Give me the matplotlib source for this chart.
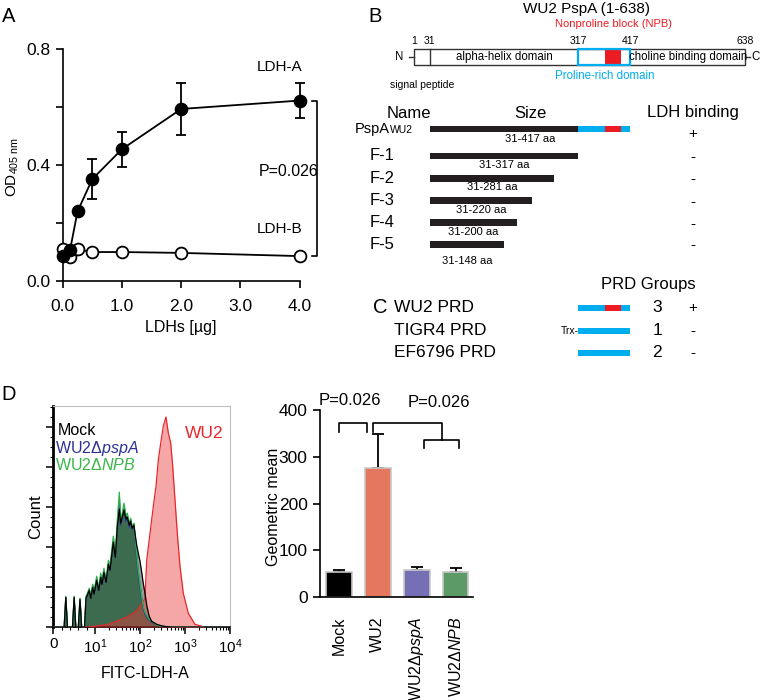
import matplotlib
matplotlib.use('Agg')
import matplotlib.pyplot as plt
from matplotlib.patches import Rectangle

plt.rcParams['font.family'] = ['Liberation Sans', 'DejaVu Sans']
plt.rcParams['mathtext.fontset'] = 'custom'
plt.rcParams['mathtext.rm'] = 'Liberation Sans'
plt.rcParams['mathtext.it'] = 'Liberation Sans:italic'
plt.rcParams['mathtext.bf'] = 'Liberation Sans:bold'

# ---------------- data ----------------
# Panel A: LDH binding ELISA
ldh_ug = [0, 0.125, 0.25, 0.5, 1.0, 2.0, 4.0]
ldha_od = [0.085, 0.108, 0.240, 0.352, 0.455, 0.594, 0.623]
ldha_sd = [0, 0, 0, 0.069, 0.060, 0.090, 0.060]
ldhb_od = [0.112, 0.082, 0.110, 0.100, 0.100, 0.097, 0.086]

# Panel B: PspA domains (residues)
pspa_len = 638
signal_end = 31
helix_end = 317
prd_end = 417
npb_range = (369, 399)
domain_ticks = [1, 31, 317, 417, 638]
frag_names = ['F-1', 'F-2', 'F-3', 'F-4', 'F-5']
frag_ends = [317, 271, 228, 200, 174]          # as drawn
frag_labels = ['31-317 aa', '31-281 aa', '31-220 aa', '31-200 aa', '31-148 aa']
frag_binding = ['-', '-', '-', '-', '-']

# Panel C: PRD constructs
prd_names = ['WU2 PRD', 'TIGR4 PRD', 'EF6796 PRD']
prd_groups = ['3', '1', '2']
prd_binding = ['+', '-', '-']
prd_has_npb = [True, False, False]

# Panel D: flow histograms (FITC-LDH-A)
hist_x = [0, 2.6, 3.0, 3.4, 4.6, 5.0, 5.4, 6.0, 6.4, 6.8, 7.5, 7.84, 8.15, 8.63,
          8.97, 9.45, 9.76, 10.9, 12.1, 13.4, 14.3, 15.8, 17.6, 19.8, 21.5, 25.5,
          28.3, 31.3, 34.7, 37.2, 41.3, 44.1, 48.9, 52.3, 57.8, 62.1, 66.4, 73.6,
          77.4, 84.5, 91.7, 100, 109, 118, 129, 141, 160, 182, 235, 330, 550, 1000, 10000]
mock_cnt = [0, 0, 30, 0, 0, 30, 0, 0, 28, 0, 0, 29, 32, 37, 29, 40, 33, 47, 37, 50,
            43, 55, 45, 63, 57, 85, 70, 100, 118, 104, 112, 117, 108, 110, 102, 106,
            99, 102, 94, 82, 74, 66, 55, 44, 34, 22, 11, 6, 3, 1, 0, 0, 0]
pspa_cnt = [0, 0, 29, 0, 0, 29, 0, 0, 27, 0, 0, 29, 32, 37, 29, 41, 34, 48, 37, 51,
            43, 56, 45, 63, 58, 86, 70, 101, 126, 102, 111, 118, 106, 109, 100, 106,
            98, 101, 88, 70, 52, 40, 28, 19, 13, 10, 7, 5, 2, 1, 0, 0, 0]
npb_cnt = [0, 0, 31, 0, 0, 31, 0, 0, 29, 0, 0, 31, 34, 39, 31, 43, 36, 51, 39, 54,
           46, 59, 47, 67, 61, 91, 74, 107, 135, 107, 117, 124, 111, 114, 104, 109,
           101, 104, 91, 74, 57, 44, 31, 21, 15, 12, 8, 6, 2, 1, 0, 0, 0]
wu2_x = [0, 7, 10, 20, 30, 50, 70, 85, 100, 115, 129, 141, 167, 198, 227, 255, 289,
         330, 378, 426, 481, 533, 600, 674, 774, 917, 1184, 1668, 2783, 10000]
wu2_cnt = [0, 0, 1, 3, 6, 10, 14, 17, 21, 25, 29, 67, 94, 121, 141, 167, 184, 201,
           210, 194, 184, 161, 127, 94, 61, 34, 14, 3, 0, 0]

# Panel D: geometric mean bars
strains = ['Mock', 'WU2', 'WU2Δ$\\it{pspA}$', 'WU2Δ$\\it{NPB}$']
geo_mean = [54.7, 277, 58.4, 54.7]
geo_err = [3.6, 72, 5.6, 8.3]
bar_colors = ['#000000', '#e5775f', '#7570b5', '#5c9b67']

CYAN = '#00aeef'
RED = '#ed1c24'

# ---------------- figure ----------------
W, H = 760, 700
fig = plt.figure(figsize=(W / 100, H / 100), dpi=100)


def px_axes(x0, y0, x1, y1):
    """axes from pixel box (top-left origin)"""
    return fig.add_axes([x0 / W, 1 - y1 / H, (x1 - x0) / W, (y1 - y0) / H])


def panel_label(x, y, s):
    fig.text(x / W, 1 - y / H, s, fontsize=14.5, ha='center', va='center')


panel_label(8.5, 17, 'A')
panel_label(375, 17, 'B')
panel_label(380, 308, 'C')
panel_label(8.5, 395, 'D')

# ---------- A ----------
axA = px_axes(62.7, 49.3, 299.7, 281)
axA.plot(ldh_ug, ldhb_od, '-o', color='black', mfc='white', mec='black', ms=8.5,
         mew=1.3, lw=1.3, clip_on=False, zorder=3)
axA.errorbar(ldh_ug, ldha_od, yerr=ldha_sd, fmt='-o', color='black', ms=8.8, lw=1.3,
             elinewidth=1.3, capsize=3.6, capthick=1.3, clip_on=False, zorder=4)
axA.set_xlim(0, 4)
axA.set_ylim(0, 0.8)
axA.spines['top'].set_visible(False)
axA.spines['right'].set_visible(False)
for s in ('left', 'bottom'):
    axA.spines[s].set_linewidth(1.2)
axA.set_xticks([0, 1, 2, 3, 4])
axA.set_xticklabels(['0.0', '1.0', '2.0', '3.0', '4.0'])
axA.set_yticks([0, 0.2, 0.4, 0.6, 0.8])
axA.set_yticklabels(['0.0', '', '0.4', '', '0.8'])
axA.tick_params(direction='out', length=5, width=1.2, labelsize=12.5)
axA.tick_params(axis='x', pad=8)
axA.text(-0.21, 0.49, 'OD$_{405\\ \\mathrm{nm}}$', transform=axA.transAxes, rotation=90,
         fontsize=11, ha='center', va='center')
axA.set_xlabel('LDHs [µg]', fontsize=11.5, labelpad=4)
axA.text(4.04, 0.74, 'LDH-A', fontsize=11, ha='right', va='center')
axA.text(4.04, 0.18, 'LDH-B', fontsize=11, ha='right', va='center')
axA.text(4.31, 0.377, 'P=0.026', fontsize=11.5, ha='right', va='center')
bx0, bx1 = 4.2, 4.3
axA.plot([bx0, bx1, bx1, bx0], [ldha_od[-1], ldha_od[-1], ldhb_od[-1], ldhb_od[-1]],
         color='black', lw=1.2, clip_on=False)

# ---------- B / C ----------
PX0, PXR = 414, 0.52   # pixel of residue 1, pixels per residue
axB = px_axes(340, 0, 760, 380)
axB.set_xlim(1 + (340 - PX0) / PXR, 1 + (760 - PX0) / PXR)
axB.set_ylim(380, 0)
axB.axis('off')

box_top, box_h = 49, 16
box_mid = box_top + box_h / 2
axB.add_patch(Rectangle((1, box_top), pspa_len - 1, box_h, fill=False, ec='#333333', lw=1))
axB.plot([signal_end, signal_end], [box_top, box_top + box_h], color='#333333', lw=1)
axB.add_patch(Rectangle((npb_range[0], box_top + 0.5), npb_range[1] - npb_range[0], box_h - 1,
                        fc=RED, ec='none'))
axB.add_patch(Rectangle((helix_end, box_top), prd_end - helix_end, box_h, fill=False,
                        ec=CYAN, lw=1.6))
axB.plot([-8.6, 1], [box_mid, box_mid], color='#333333', lw=1)
axB.plot([pspa_len, pspa_len + 9], [box_mid, box_mid], color='#333333', lw=1)
axB.text(-19.6, box_mid, 'N', fontsize=8.3, ha='right', va='center')
axB.text(pspa_len + 12, box_mid, 'C', fontsize=8.3, ha='left', va='center')
for r in domain_ticks:
    axB.text(r, 41.5, str(r), fontsize=7.5, ha='center', va='center')
axB.text((signal_end + helix_end) / 2, box_mid, 'alpha-helix domain', fontsize=8.3,
         ha='center', va='center')
axB.text((prd_end + pspa_len) / 2, box_mid, 'choline binding domain', fontsize=8.3,
         ha='center', va='center')
axB.text((helix_end + prd_end) / 2, 76, 'Proline-rich domain', fontsize=8.3, color=CYAN,
         ha='center', va='center')
axB.text(sum(npb_range) / 2, 24.3, 'Nonproline block (NPB)', fontsize=8, color=RED,
         ha='center', va='center')
axB.text(16, 85, 'signal peptide', fontsize=7.5, ha='center', va='center')
axB.text(333, 9, 'WU2 PspA (1-638)', fontsize=11, ha='center', va='center')

# header
axB.text(-9, 113, 'Name', fontsize=12, ha='center', va='center')
axB.text(224, 113, 'Size', fontsize=12, ha='center', va='center')
axB.text(537, 113, 'LDH binding', fontsize=12, ha='center', va='center')

bar_h = 6.5
# full-length PspA WU2 row
y0 = 129
axB.barh(y0, helix_end - signal_end, left=signal_end, height=bar_h, color='#231f20')
axB.barh(y0, prd_end - helix_end, left=helix_end, height=bar_h, color=CYAN)
axB.barh(y0, npb_range[1] - npb_range[0], left=npb_range[0], height=bar_h, color=RED)
t = axB.text(-112.5, y0, 'PspA', fontsize=10.5, ha='left', va='center')
axB.annotate('WU2', xy=(1, 0.24), xycoords=t, fontsize=7.5, ha='left', va='baseline')
axB.text((signal_end + prd_end) / 2, 139.5, '31-417 aa', fontsize=8, ha='center', va='center')
axB.text(537, 134, '+', fontsize=11, ha='center', va='center')

frag_y = [156, 178.3, 200.7, 222.7, 244.3]
frag_lab_y = [165, 187.3, 210, 232, 261]
for name, end, lab, b, fy, ly in zip(frag_names, frag_ends, frag_labels, frag_binding,
                                     frag_y, frag_lab_y):
    axB.barh(fy, end - signal_end, left=signal_end, height=bar_h, color='#231f20')
    axB.text(-83.6, fy, name, fontsize=12, ha='left', va='center')
    axB.text((signal_end + end) / 2, ly, lab, fontsize=8, ha='center', va='center')
    axB.text(537, fy + 1, b, fontsize=11, ha='center', va='center')

# C
axB.text(543, 284.3, 'PRD Groups', fontsize=12, ha='right', va='center')
prd_y = [308, 331, 353]
for name, g, b, npb, py in zip(prd_names, prd_groups, prd_binding, prd_has_npb, prd_y):
    axB.barh(py, prd_end - helix_end, left=helix_end, height=bar_h, color=CYAN)
    if npb:
        axB.barh(py, npb_range[1] - npb_range[0], left=npb_range[0], height=bar_h, color=RED)
    axB.text(-37.5, py, name, fontsize=12.5, ha='left', va='center')
    axB.text(469, py, g, fontsize=12.5, ha='center', va='center')
    axB.text(537, py, b, fontsize=11, ha='center', va='center')
axB.text(helix_end + 1, prd_y[1], 'Trx-', fontsize=7.5, ha='right', va='center')

# ---------- D: histogram ----------
axH = px_axes(53.3, 406, 230, 627.3)
axH.fill_between(hist_x, mock_cnt, color='#9d9d9d', lw=0, zorder=1)
axH.fill_between(hist_x, npb_cnt, color='#3d6b50', lw=0, zorder=2)
axH.fill_between(wu2_x, wu2_cnt, color='#eb3c3c', alpha=0.45, lw=0, zorder=3)
axH.plot(wu2_x, wu2_cnt, color='#e8262b', lw=0.9, zorder=4)
axH.plot(hist_x, pspa_cnt, color='#2b3a9a', lw=0.9, zorder=5)
axH.plot(hist_x, npb_cnt, color='#2db34a', lw=0.9, zorder=6)
axH.plot(hist_x, mock_cnt, color='black', lw=0.9, zorder=7)
axH.set_xscale('symlog', linthresh=10, linscale=0.834)
axH.set_xlim(0, 10000)
axH.set_ylim(0, 221)
axH.set_xticks([0, 10, 100, 1000, 10000])
axH.set_xticklabels(['0', '$10^{1}$', '$10^{2}$', '$10^{3}$', '$10^{4}$'])
minor_x = [2, 4, 6, 8] + [k * 10 ** d for d in (1, 2, 3) for k in range(2, 10)]
axH.set_xticks(minor_x, minor=True)
axH.set_yticks(range(0, 221, 40))
axH.set_yticks(range(0, 221, 10), minor=True)
axH.set_yticklabels([])
axH.tick_params(direction='out', length=5, width=1.1, labelsize=11)
axH.tick_params(which='minor', direction='out', length=2.5, width=0.8)
axH.tick_params(axis='x', which='major', pad=2)
axH.spines['left'].set_linewidth(2)
axH.spines['bottom'].set_linewidth(1.2)
for s in ('top', 'right'):
    axH.spines[s].set_color('#bdbdbd')
    axH.spines[s].set_linewidth(0.8)
axH.text(-0.1, 0.5, 'Count', transform=axH.transAxes, rotation=90, fontsize=12,
         ha='center', va='center')
axH.text(0.52, -0.208, 'FITC-LDH-A', transform=axH.transAxes, fontsize=11.5,
         ha='center', va='center')
axH.text(0.025, 0.888, 'Mock', transform=axH.transAxes, fontsize=11.5, color='black',
         ha='left', va='center')
axH.text(0.01, 0.81, 'WU2Δ$\\it{pspA}$', transform=axH.transAxes, fontsize=11.5,
         color='#2e3192', ha='left', va='center')
axH.text(0.01, 0.735, 'WU2Δ$\\it{NPB}$', transform=axH.transAxes, fontsize=11.5,
         color='#39b54a', ha='left', va='center')
axH.text(0.855, 0.876, 'WU2', transform=axH.transAxes, fontsize=12.5, color='#e8262b',
         ha='center', va='center')

# ---------- D: bars ----------
axD = px_axes(319.5, 410, 472.7, 597.3)
xs = list(range(len(strains)))
axD.bar(xs, geo_mean, width=0.66, color=bar_colors, edgecolor='#c8c8c8', lw=1.2, zorder=2)
axD.errorbar(xs, geo_mean, yerr=[[0] * len(xs), geo_err], fmt='none', ecolor='black',
             elinewidth=1.3, capsize=4.5, capthick=1.3, zorder=1)
axD.set_xlim(-0.5, 3.44)
axD.set_ylim(0, 400)
axD.spines['top'].set_visible(False)
axD.spines['right'].set_visible(False)
for s in ('left', 'bottom'):
    axD.spines[s].set_linewidth(1.2)
axD.set_yticks([0, 100, 200, 300, 400])
axD.tick_params(axis='y', direction='out', length=5, width=1.2, labelsize=12.5)
axD.set_xticks(xs)
axD.set_xticklabels(strains, rotation=90, va='top', fontsize=11.5)
axD.tick_params(axis='x', length=0, pad=14)
axD.text(-0.3, 0.484, 'Geometric mean', transform=axD.transAxes, rotation=90,
         fontsize=11.5, ha='center', va='center')

# significance brackets
lv, lo, lv2, lo2 = 372, 354, 336, 318
axD.plot([0, 0, 0.72, 0.72], [lo, lv, lv, lo], color='black', lw=1.2, clip_on=False)
axD.plot([0.87, 0.87, 2.64, 2.64], [lo, lv, lv, lv2], color='black', lw=1.2, clip_on=False)
axD.plot([2.19, 2.19, 3.09, 3.09], [lo2, lv2, lv2, lo2], color='black', lw=1.2, clip_on=False)
axD.text(0.28, 421, 'P=0.026', fontsize=12, ha='center', va='center')
axD.text(2.57, 417, 'P=0.026', fontsize=12, ha='center', va='center')

fig.savefig('out.png', dpi=100)
